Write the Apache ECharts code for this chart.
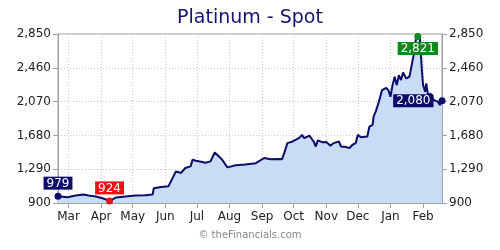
<!DOCTYPE html>
<html>
<head>
<meta charset="utf-8">
<script src="https://cdn.jsdelivr.net/npm/echarts@6/dist/echarts.min.js"></script>
<style>html,body{margin:0;padding:0;background:#fff}#c{width:500px;height:250px}</style>
</head>
<body>
<div id="c"></div>
<script>
var titleText = 'Platinum - Spot';
var watermark = '\u00a9 theFinancials.com';
var dates = [
 '2025-02-19','2025-02-28','2025-03-08','2025-03-15','2025-03-20','2025-03-27','2025-04-03','2025-04-09','2025-04-15','2025-04-24',
 '2025-05-04','2025-05-13','2025-05-20','2025-05-21','2025-05-28','2025-06-04','2025-06-08','2025-06-11','2025-06-16','2025-06-20',
 '2025-06-25','2025-06-27','2025-06-30','2025-07-05','2025-07-09','2025-07-14','2025-07-18','2025-07-22','2025-07-25','2025-07-30',
 '2025-08-07','2025-08-16','2025-08-26','2025-09-03','2025-09-09','2025-09-17','2025-09-20','2025-09-22','2025-09-25','2025-09-30',
 '2025-10-06','2025-10-09','2025-10-11','2025-10-16','2025-10-20','2025-10-22','2025-10-24','2025-10-28','2025-11-01','2025-11-05',
 '2025-11-08','2025-11-13','2025-11-15','2025-11-20','2025-11-23','2025-11-26','2025-11-29','2025-12-01','2025-12-04','2025-12-10',
 '2025-12-12','2025-12-15','2025-12-16','2025-12-18','2025-12-21','2025-12-24','2025-12-28','2025-12-30','2026-01-01','2026-01-03',
 '2026-01-05','2026-01-07','2026-01-09','2026-01-11','2026-01-13','2026-01-16','2026-01-19','2026-01-20','2026-01-23','2026-01-25',
 '2026-01-27','2026-01-29','2026-01-31','2026-02-01','2026-02-03','2026-02-04','2026-02-06','2026-02-08','2026-02-11','2026-02-15',
 '2026-02-17','2026-02-19'
];
var prices = [
 979, 967, 986, 998, 986, 975, 952, 924, 963, 975,
 986, 990, 998, 1070, 1085, 1093, 1190, 1265, 1247, 1304,
 1323, 1400, 1388, 1376, 1365, 1380, 1483, 1437, 1400, 1311,
 1336, 1345, 1360, 1419, 1405, 1407, 1405, 1476, 1591, 1610,
 1648, 1686, 1648, 1678, 1610, 1552, 1622, 1602, 1605, 1560,
 1591, 1610, 1552, 1545, 1534, 1572, 1591, 1686, 1659, 1667,
 1782, 1801, 1897, 1954, 2069, 2203, 2229, 2203, 2126, 2260,
 2356, 2260, 2375, 2318, 2406, 2337, 2356, 2413, 2605, 2777,
 2821, 2800, 2413, 2260, 2183, 2280, 2126, 2165, 2088, 2069,
 2031, 2080
];
var xMin = '2025-02-19';
var xMax = '2026-02-19';
var monthTicks = ['2025-03-01','2025-04-01','2025-05-01','2025-06-01','2025-07-01','2025-08-01','2025-09-01','2025-10-01','2025-11-01','2025-12-01','2026-01-01','2026-02-01'];
var monthLabels = ['Mar','Apr','May','Jun','Jul','Aug','Sep','Oct','Nov','Dec','Jan','Feb'];
var yMin = 900, yMax = 2850, yStep = 390;

var FONT = 'DejaVu Sans';
var ts = function (d) { return +new Date(d + 'T00:00:00'); };
var fmt = function (v) { return Number(v).toLocaleString('en-US'); };
var tickTimes = monthTicks.map(ts);
var monthOf = {};
tickTimes.forEach(function (t, i) { monthOf[t] = monthLabels[i]; });
var seriesData = dates.map(function (d, i) { return [ts(d), prices[i]]; });

function yAxisCfg(pos) {
  return {
    type: 'value', position: pos, min: yMin, max: yMax, interval: yStep,
    axisLine: { show: true, lineStyle: { color: '#a0a0a0', width: 1 } },
    axisTick: { show: true, length: 5, lineStyle: { color: '#a0a0a0' } },
    axisLabel: { color: '#222', fontFamily: FONT, fontSize: 12, margin: 7, formatter: fmt },
    splitLine: { show: pos === 'left', lineStyle: { color: '#c8c8c8', type: [1, 2] } }
  };
}

function lbl(bg, pos, dist) {
  return {
    show: true, position: pos, distance: dist, color: '#fff', fontFamily: FONT, fontSize: 12,
    backgroundColor: bg, padding: [1, 3, 0, 3],
    formatter: function (p) { return fmt(p.value); }
  };
}

var chart = echarts.init(document.getElementById('c'), null, { renderer: 'canvas' });
chart.setOption({
  animation: false,
  backgroundColor: '#fff',
  title: {
    text: titleText, left: 'center', top: 4,
    textStyle: { color: '#14146e', fontFamily: FONT, fontSize: 19, fontWeight: 'normal' }
  },
  grid: { left: 58, right: 58, top: 34, bottom: 47, show: true, borderColor: '#a0a0a0', borderWidth: 1, backgroundColor: '#fff' },
  xAxis: {
    type: 'value', min: ts(xMin), max: ts(xMax),
    axisLine: { show: true, onZero: false, lineStyle: { color: '#a0a0a0' } },
    axisTick: { show: true, length: 5, customValues: tickTimes, lineStyle: { color: '#a0a0a0' } },
    axisLabel: {
      customValues: tickTimes, color: '#222', fontFamily: FONT, fontSize: 12, margin: 8,
      formatter: function (v) { return monthOf[v] || ''; }
    },
    splitLine: { show: true, lineStyle: { color: '#c8c8c8', type: [1, 2] } }
  },
  yAxis: [yAxisCfg('left'), yAxisCfg('right')],
  graphic: [{
    type: 'text', left: 'center', top: 230,
    style: { text: watermark, fill: '#888', font: '10px "DejaVu Sans"' }
  }],
  series: [{
    type: 'line', data: seriesData, showSymbol: false, yAxisIndex: 0,
    lineStyle: { color: '#0c0c6a', width: 2 },
    areaStyle: { color: '#c8ddf5', opacity: 1 },
    markPoint: {
      symbol: 'circle', symbolSize: 7,
      data: [
        { coord: seriesData[0], value: prices[0], itemStyle: { color: '#0c0c6a' }, label: lbl('#0c0c6a', 'top', 3) },
        { type: 'min', itemStyle: { color: '#e8141b' }, label: lbl('#f01010', 'top', 3) },
        { type: 'max', itemStyle: { color: '#0d8a1a' }, label: lbl('#0d8a1a', 'bottom', 2) },
        { coord: seriesData[seriesData.length - 1], value: prices[prices.length - 1], itemStyle: { color: '#0c0c6a' }, label: lbl('#0c0c6a', 'left', 5) }
      ]
    }
  }]
});
</script>
</body>
</html>
